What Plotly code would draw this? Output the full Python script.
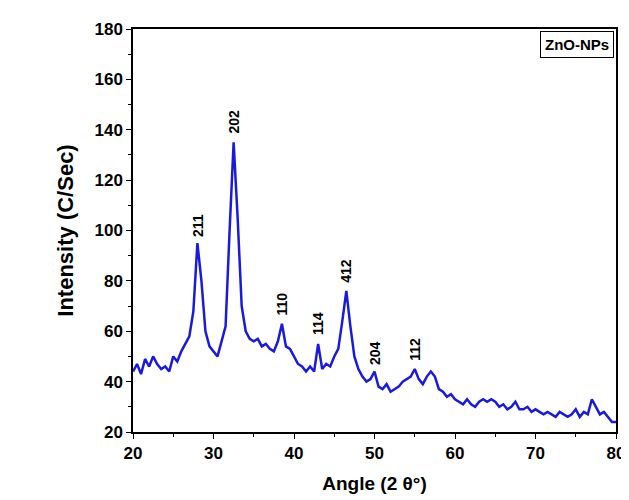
import plotly.graph_objects as go

# XRD pattern of ZnO nanoparticles, 0.5 degree steps from 20 to 80
angle = [20 + 0.5 * i for i in range(121)]
intensity = [
    44, 47, 43, 49, 46, 50, 47, 45, 46, 44,   # 20.0 - 24.5
    50, 48, 52, 55, 58, 68, 95, 80, 60, 54,   # 25.0 - 29.5 (peak at 28)
    52, 50, 56, 62, 100, 135, 105, 70, 60, 57,  # 30.0 - 34.5 (peak at 32.5)
    56, 57, 54, 55, 53, 52, 56, 63, 54, 53,   # 35.0 - 39.5
    50, 47, 46, 44, 46, 44, 55, 45, 47, 46,   # 40.0 - 44.5
    50, 53, 64, 76, 62, 50, 45, 42, 40, 41,   # 45.0 - 49.5
    44, 38, 37, 39, 36, 37, 38, 40, 41, 42,   # 50.0 - 54.5
    45, 41, 39, 42, 44, 42, 37, 36, 34, 35,   # 55.0 - 59.5
    33, 32, 31, 33, 31, 30, 32, 33, 32, 33,   # 60.0 - 64.5
    32, 30, 31, 29, 30, 32, 29, 29, 30, 28,   # 65.0 - 69.5
    29, 28, 27, 28, 27, 26, 28, 27, 26, 27,   # 70.0 - 74.5
    29, 26, 28, 27, 33, 30, 27, 28, 26, 24,   # 75.0 - 79.5
    24,
]
peak_labels = ["211", "202", "110", "114", "412", "204", "112"]
peak_x = [28.0, 32.5, 38.5, 43.0, 46.5, 50.0, 55.0]
peak_y = [95, 136, 64, 56, 77, 44, 46]

fig = go.Figure()
fig.add_trace(go.Scatter(x=angle, y=intensity, mode="lines", name="ZnO-NPs",
                         line=dict(color="#1a1adf", width=2.5), showlegend=False))

for lab, px, py in zip(peak_labels, peak_x, peak_y):
    fig.add_annotation(x=px, y=py, text="<b>" + lab + "</b>", textangle=-90, showarrow=False,
                       yanchor="bottom", yshift=4,
                       font=dict(size=14, color="black", family="Liberation Sans"))

fig.add_annotation(x=1, y=1, xref="paper", yref="paper", xanchor="right", yanchor="top",
                   text="<b>ZnO-NPs</b>", showarrow=False, bordercolor="black", borderwidth=1,
                   borderpad=4, bgcolor="white", xshift=-2, yshift=-2,
                   font=dict(size=15, color="black", family="Liberation Sans"))

axis_common = dict(showline=True, linecolor="black", linewidth=1.5, mirror=True,
                   ticks="outside", tickcolor="black", showgrid=False, zeroline=False,
                   tickfont=dict(size=17, color="black", family="Liberation Sans"))
fig.update_xaxes(range=[20, 80], dtick=10, tickprefix="<b>", ticksuffix="</b>",
                 title=dict(text="<b>Angle (2 θ°)</b>", font=dict(size=19, color="black")),
                 minor=dict(ticks="outside", tickcolor="black", dtick=5), **axis_common)
fig.update_yaxes(range=[20, 180], dtick=20, tickprefix="<b>", ticksuffix="</b>",
                 title=dict(text="<b>Intensity (C/Sec)</b>", font=dict(size=22, color="black")),
                 minor=dict(ticks="outside", tickcolor="black", dtick=10), **axis_common)

fig.update_layout(width=629, height=500, margin=dict(l=125, r=16, t=17, b=76),
                  plot_bgcolor="white", paper_bgcolor="white",
                  font=dict(family="Liberation Sans", color="black"))

fig.write_html("out.html")
